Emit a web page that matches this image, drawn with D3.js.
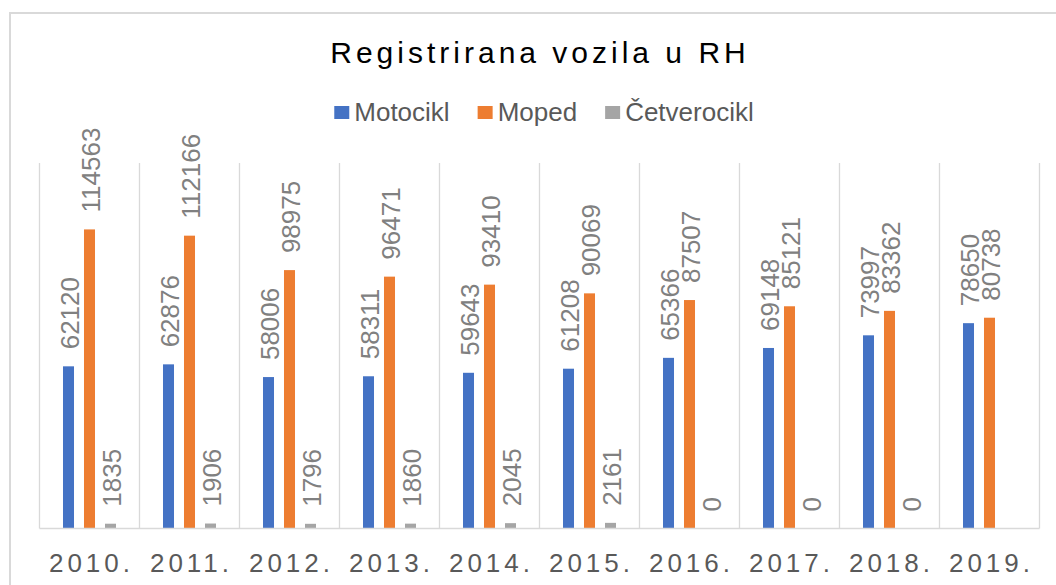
<!DOCTYPE html>
<html>
<head>
<meta charset="utf-8">
<script src="https://cdn.jsdelivr.net/npm/d3@7"></script>
<style>
  html, body { margin: 0; padding: 0; background: #fff; }
  svg { display: block; font-family: "Liberation Sans", Arial, sans-serif; }
</style>
</head>
<body>
<svg id="chart" width="1056" height="585"></svg>
<script>
// chart data
const years = ["2010.", "2011.", "2012.", "2013.", "2014.", "2015.", "2016.", "2017.", "2018.", "2019."];
const seriesNames = ["Motocikl", "Moped", "Četverocikl"];
const motocikl = [62120, 62876, 58006, 58311, 59643, 61208, 65366, 69148, 73997, 78650];
const moped = [114563, 112166, 98975, 96471, 93410, 90069, 87507, 85121, 83362, 80738];
const cetverocikl = [1835, 1906, 1796, 1860, 2045, 2161, 0, 0, 0, null];
const colors = ["#4472C4", "#ED7D31", "#A5A5A5"];
const yMax = 140000;

const svg = d3.select("#chart");
const W = 1056, H = 585;

// outer chart border (runs off the right/bottom of the picture)
svg.append("rect")
    .attr("x", 10).attr("y", 13)
    .attr("width", W + 20).attr("height", H + 20)
    .attr("fill", "#fff")
    .attr("stroke", "#d9d9d9").attr("stroke-width", 2);

const plot = { left: 39.5, right: 1039.5, top: 163, bottom: 528.5 };

const x0 = d3.scaleBand().domain(years).range([plot.left, plot.right]).padding(0);
const step = x0.bandwidth();
const x1 = d3.scaleBand().domain(seriesNames)
    .range([step / 2 - 31.5, step / 2 + 31.5])
    .paddingInner(0.476).paddingOuter(0.238);
const y = d3.scaleLinear().domain([0, yMax]).range([plot.bottom, plot.top]);

// vertical category gridlines
const bounds = years.map(d => x0(d)).concat([plot.right]);
svg.append("g").selectAll("line")
    .data(bounds)
    .join("line")
    .attr("x1", d => d).attr("x2", d => d)
    .attr("y1", plot.top).attr("y2", plot.bottom)
    .attr("stroke", "#d9d9d9").attr("stroke-width", 1.3);

// bars
const rows = years.map((yr, i) => ({
    year: yr,
    vals: [motocikl[i], moped[i], cetverocikl[i]]
}));

const groups = svg.append("g").selectAll("g")
    .data(rows)
    .join("g")
    .attr("transform", d => `translate(${x0(d.year)},0)`);

groups.selectAll("rect")
    .data(d => d.vals.map((v, j) => ({ v, s: seriesNames[j], c: colors[j] })).filter(e => e.v !== null && e.v > 0))
    .join("rect")
    .attr("x", d => x1(d.s))
    .attr("width", x1.bandwidth())
    .attr("y", d => y(d.v))
    .attr("height", d => y(0) - y(d.v))
    .attr("fill", d => d.c);

// data labels, rotated
const labelSize = 26;
groups.selectAll("text")
    .data(d => d.vals.map((v, j) => ({ v, s: seriesNames[j] })).filter(e => e.v !== null))
    .join("text")
    .attr("transform", d => {
        const cx = x1(d.s) + x1.bandwidth() / 2 + 1 + labelSize * 0.358;
        const ty = y(d.v) - 17;
        return `translate(${cx},${ty}) rotate(-90)`;
    })
    .attr("font-size", labelSize)
    .attr("fill", "#808080")
    .text(d => d.v);

// baseline
svg.append("line")
    .attr("x1", plot.left).attr("x2", plot.right)
    .attr("y1", plot.bottom).attr("y2", plot.bottom)
    .attr("stroke", "#d9d9d9").attr("stroke-width", 1.5);

// year labels
svg.append("g").selectAll("text")
    .data(years)
    .join("text")
    .attr("x", d => x0(d) + step / 2 + 2)
    .attr("y", 572)
    .attr("text-anchor", "middle")
    .attr("font-size", 26)
    .attr("letter-spacing", 4)
    .attr("fill", "#595959")
    .text(d => d);

// title
svg.append("text")
    .attr("x", 540)
    .attr("y", 63)
    .attr("text-anchor", "middle")
    .attr("font-size", 30)
    .attr("letter-spacing", 4)
    .attr("fill", "#000")
    .text("Registrirana vozila u RH");

// legend, centred
const legend = svg.append("g");
const items = legend.selectAll("g")
    .data(seriesNames)
    .join("g");
items.append("rect")
    .attr("y", 106).attr("width", 15).attr("height", 13)
    .attr("fill", (d, i) => colors[i]);
items.append("text")
    .attr("x", 20).attr("y", 121)
    .attr("font-size", 26)
    .attr("fill", "#595959")
    .text(d => d);

let pos = 0;
const offsets = [];
items.each(function () {
    const w = d3.select(this).select("text").node().getComputedTextLength();
    offsets.push(pos);
    pos += 20 + w + 28;
});
const total = pos - 28;
const startX = 544 - total / 2;
items.attr("transform", (d, i) => `translate(${startX + offsets[i]},0)`);
</script>
</body>
</html>
